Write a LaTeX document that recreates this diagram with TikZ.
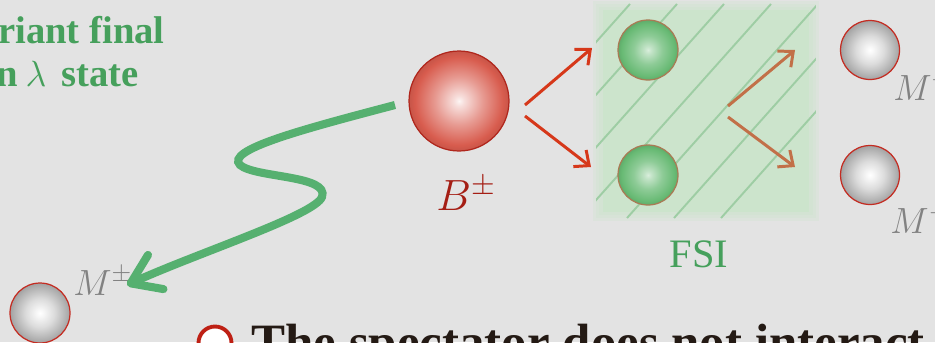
\documentclass[tikz,border=0pt]{standalone}
\usepackage{fontspec}
\setmainfont{Liberation Serif}
\usetikzlibrary{positioning,arrows.meta,calc}
\definecolor{slidebg}{RGB}{227,227,227}
\definecolor{ballred}{RGB}{216,92,78}
\definecolor{ballredrim}{RGB}{176,38,28}
\definecolor{ballgreen}{RGB}{104,186,116}
\definecolor{ballgreenrim}{RGB}{170,122,84}
\definecolor{ballgray}{RGB}{176,176,176}
\definecolor{ballgrayrim}{RGB}{196,44,34}
\definecolor{arrred}{RGB}{214,56,26}
\definecolor{arrorange}{RGB}{194,112,72}
\definecolor{fsigreen}{RGB}{204,228,204}
\definecolor{hatchgreen}{RGB}{158,205,164}
\definecolor{txtgreen}{RGB}{70,160,92}
\definecolor{wavegreen}{RGB}{86,176,112}
\definecolor{labgray}{RGB}{130,130,130}
\definecolor{labred}{RGB}{165,30,20}
\definecolor{bulred}{RGB}{190,32,20}
\definecolor{bodytext}{RGB}{36,26,20}
% node edge sits at 25bp of a radial shading
\pgfdeclareradialshading{redsphere}{\pgfpointorigin}{color(0bp)=(white!94!ballred); color(2.5bp)=(white!80!ballred); color(12bp)=(white!38!ballred); color(22bp)=(ballred); color(25bp)=(ballred!92!black); color(50bp)=(ballred!92!black)}
\pgfdeclareradialshading{greensphere}{\pgfpointorigin}{color(0bp)=(white!75!ballgreen); color(3bp)=(white!60!ballgreen); color(12bp)=(white!25!ballgreen); color(22bp)=(ballgreen); color(25bp)=(ballgreen!92!black); color(50bp)=(ballgreen!92!black)}
\pgfdeclareradialshading{graysphere}{\pgfpointorigin}{color(0bp)=(white); color(2.5bp)=(white!92!ballgray); color(12bp)=(white!55!ballgray); color(22bp)=(ballgray); color(25bp)=(ballgray!92!black); color(50bp)=(ballgray!92!black)}
\tikzset{
  ball/.style={circle, inner sep=0pt, line width=0.7pt},
  redball/.style={ball, draw=ballredrim, shading=redsphere, minimum size=2cm},
  greenball/.style={ball, draw=ballgreenrim, shading=greensphere, minimum size=1.2cm},
  grayball/.style={ball, draw=ballgrayrim, shading=graysphere, minimum size=1.18cm},
  redarrow/.style={-{Straight Barb[length=2.4mm,width=4.2mm]}, line width=1.7pt, arrred},
  fsiarrow/.style={-{Straight Barb[length=2.4mm,width=4.2mm]}, line width=1.7pt, arrorange},
  wave/.style={-{Straight Barb[length=5.5mm,width=7.5mm,round]}, line width=4.6pt, wavegreen},
  hatch/.style={hatchgreen, line width=1.1pt},
  greentext/.style={inner sep=0pt, text=txtgreen, font=\fontsize{22}{26}\selectfont\bfseries},
  fsilabel/.style={inner sep=0pt, text=txtgreen, font=\fontsize{23}{27}\selectfont},
  mlab/.style={inner sep=0pt, text=labgray, font=\fontsize{20}{24}\selectfont},
  blab/.style={inner sep=0pt, text=labred, font=\fontsize{24}{28}\selectfont},
  ringbullet/.style={circle, draw=bulred, line width=2.2pt, fill=white, minimum size=0.66cm, inner sep=0pt},
  bodyline/.style={inner sep=0pt, text=bodytext, font=\fontsize{29}{33}\selectfont\bfseries}
}
\begin{document}
\begin{tikzpicture}[x=0.02cm, y=-0.02cm]
  \useasboundingbox (0,0) rectangle (935,342);
  \clip (0,0) rectangle (935,342);
  \fill[slidebg] (0,0) rectangle (935,342);

  % FSI region
  \node[fill=fsigreen, minimum width=4.14cm, minimum height=4.04cm, inner sep=0pt] (fsi) at (706,111) {};
  \foreach \i in {1,2,3}
    \fill[fsigreen, opacity=0.3] ([shift={(-3*\i,3*\i)}]fsi.south west) rectangle ([shift={(3*\i,-3*\i)}]fsi.north east);
  \begin{scope}
    \clip ([shift={(-6,6)}]fsi.south west) rectangle ([shift={(6,-6)}]fsi.north east);
    \foreach \k in {-4,...,5}
      \draw[hatch] (677+47*\k, 4) -- ++(-191, 214);
  \end{scope}
  \node[fsilabel, anchor=base] (fsit) at (699,267) {FSI};

  % particles
  \node[redball] (bpm) at (459,101) {};
  \node[blab, anchor=base] (bl) at (466,210) {$B^{\pm}$};
  \node[greenball] (g1) at (648,50) {};
  \node[greenball] (g2) at (648,175) {};
  \node[grayball] (mp) at (870,50) {};
  \node[grayball] (mm) at (870,175) {};
  \node[grayball, minimum size=1.2cm] (mpm) at (40,313) {};
  \node[mlab, anchor=base west] (lmp) at (893,100) {$M^{+}$};
  \node[mlab, anchor=base west] (lmm) at (890,233) {$M^{-}$};
  \node[mlab, anchor=base west] (lmpm) at (73,295) {$M^{\pm}$};

  % decay arrows
  \coordinate (bo1) at ([shift={(66,4)}]bpm.center);
  \coordinate (bo2) at ([shift={(66,15)}]bpm.center);
  \coordinate (gi1) at ([shift={(-56,-2)}]g1.center);
  \coordinate (gi2) at ([shift={(-57,-8)}]g2.center);
  \draw[redarrow] (bo1) -- (gi1);
  \draw[redarrow] (bo2) -- (gi2);
  \coordinate (fo1) at ([shift={(22,-5)}]fsi.center);
  \coordinate (fo2) at ([shift={(22,6)}]fsi.center);
  \coordinate (mi1) at ([shift={(-75,0)}]mp.center);
  \coordinate (mi2) at ([shift={(-75,-8)}]mm.center);
  \draw[fsiarrow] (fo1) -- (mi1);
  \draw[fsiarrow] (fo2) -- (mi2);

  % spectator
  \coordinate (ws) at ([shift={(-64,4)}]bpm.center);
  \coordinate (we) at ([shift={(87,-28)}]mpm.center);
  \draw[wave] (ws) .. controls (300,130) and (225,150) .. (240,165)
    .. controls (255,178) and (330,175) .. (322,197)
    .. controls (315,215) and (200,252) .. (we);

  % texts
  \node[greentext, anchor=base east] (ttl1) at (165,43) {riant final};
  \node[greentext, anchor=base east] (ttl2) at (139,86) {n\hspace{0.15cm}$\lambda$\hspace{0.3cm}state};
  \node[ringbullet] (bul) at (215,343) {};
  \node[bodyline, anchor=base west] (spec) at (251,359) {The spectator does not interact};
\end{tikzpicture}
\end{document}
